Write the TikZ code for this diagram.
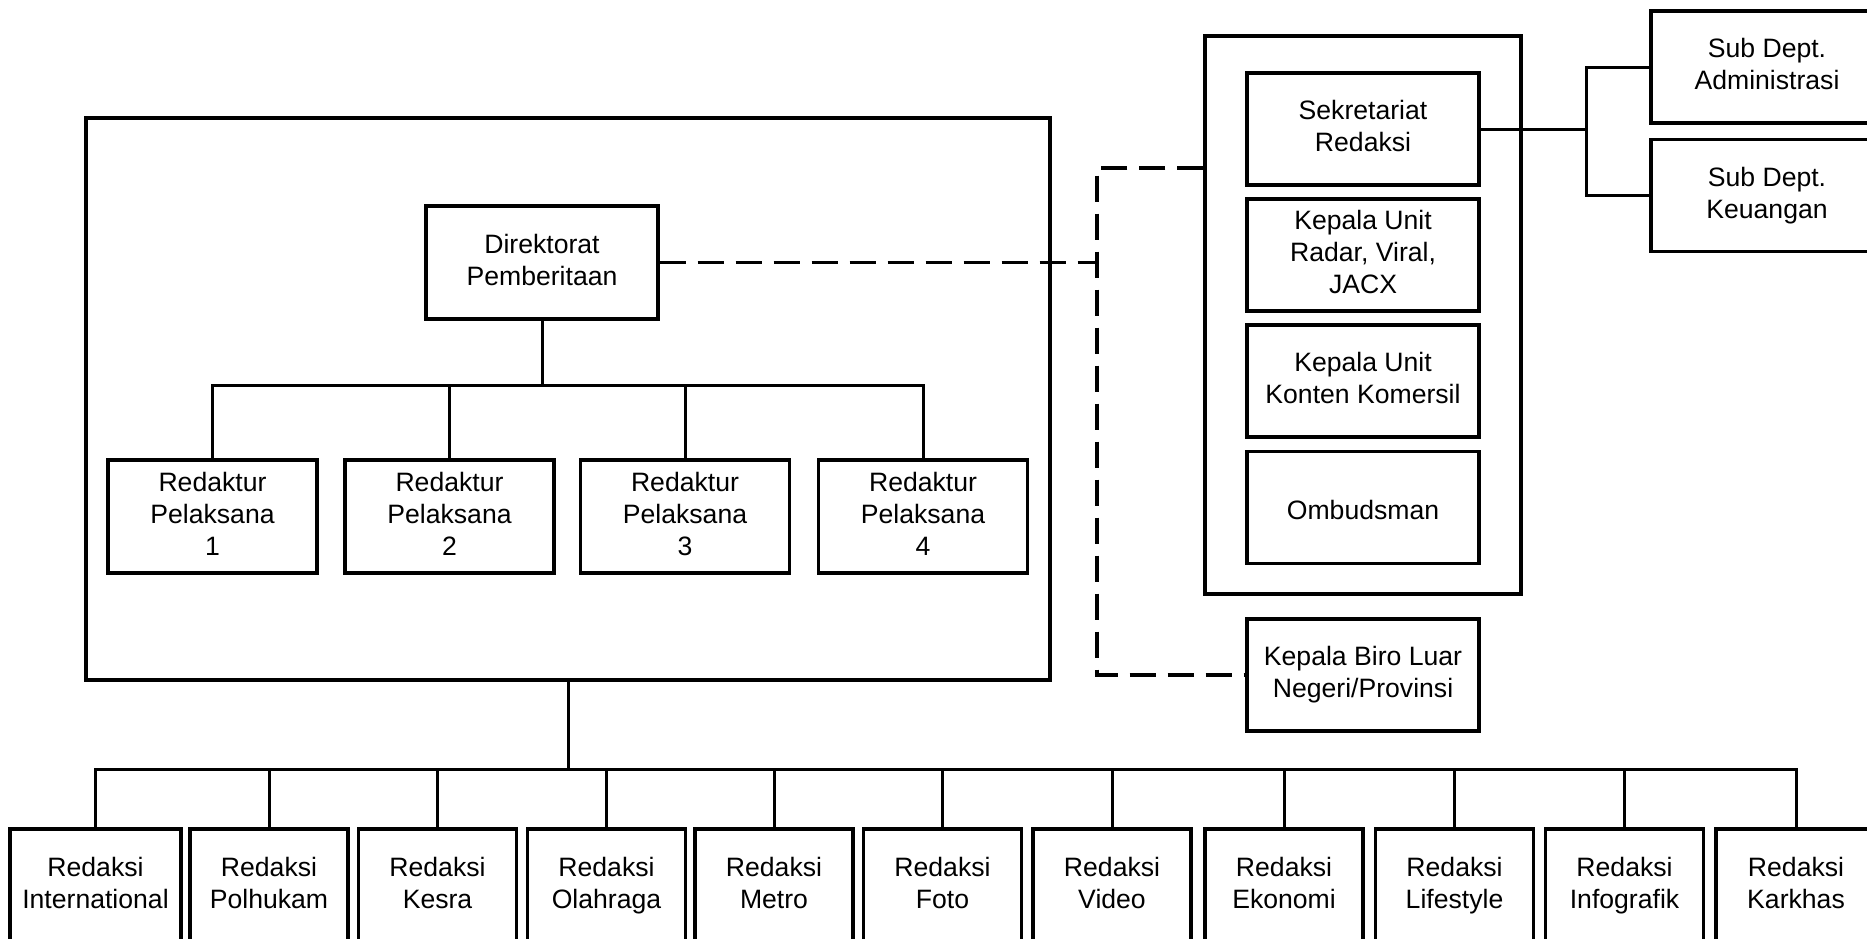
\documentclass[tikz,border=0pt]{standalone}
\usepackage{fontspec}
\setmainfont{Liberation Sans}
\newcommand{\linestrut}{\vrule height 15pt depth 3pt width 0pt\relax}
\begin{document}
\begin{tikzpicture}[x=0.5pt,y=-0.5pt,
  box/.style={draw, line width=1.6pt, align=center, inner sep=0pt,
    font=\fontsize{13.3}{16}\selectfont,
    execute at begin node=\linestrut, execute at end node=\linestrut},
  unitbox/.style={box, minimum width=116pt, minimum height=56pt},
  redbox/.style={box, minimum width=104.5pt, minimum height=56.5pt},
  deskbox/.style={box, minimum width=79pt, minimum height=56.5pt},
  link/.style={line width=1.5pt},
  dashlink/.style={line width=1.6pt, dash pattern=on 13pt off 6pt}]
\clip (0,0) rectangle (1867,938);
\fill[white] (0,0) rectangle (1867,938);

% news directorate group
\node[box, minimum width=482pt, minimum height=281pt] (grp) at (568,399) {};
\node[box, minimum width=116pt, minimum height=56.5pt] (dir) at (542,262.5) {Direktorat\\Pemberitaan};
\node[redbox] (r1) at (212.5,516.5) {Redaktur\\Pelaksana\\1};
\node[redbox] (r2) at (449.5,516.5) {Redaktur\\Pelaksana\\2};
\node[redbox] (r3) at (685,516.5) {Redaktur\\Pelaksana\\3};
\node[redbox] (r4) at (923,516.5) {Redaktur\\Pelaksana\\4};

% support units
\node[box, minimum width=158pt, minimum height=279pt] (sup) at (1363,315) {};
\node[unitbox] (sek) at (1363,129) {Sekretariat\\Redaksi};
\node[unitbox] (radar) at (1363,255) {Kepala Unit\\Radar, Viral,\\JACX};
\node[unitbox] (konten) at (1363,381) {Kepala Unit\\Konten Komersil};
\node[unitbox] (omb) at (1363,507.5) {Ombudsman};
\node[unitbox] (biro) at (1363,675) {Kepala Biro Luar\\Negeri/Provinsi};

% sub departments
\node[unitbox] (adm) at (1767,67) {Sub Dept.\\Administrasi};
\node[unitbox] (keu) at (1767,195.5) {Sub Dept.\\Keuangan};

% desks
\node[box, minimum width=85.5pt, minimum height=56.5pt] (b1) at (95.5,885.5) {Redaksi\\International};
\node[deskbox] (b2) at (269,885.5) {Redaksi\\Polhukam};
\node[deskbox] (b3) at (437.5,885.5) {Redaksi\\Kesra};
\node[deskbox] (b4) at (606.5,885.5) {Redaksi\\Olahraga};
\node[deskbox] (b5) at (774,885.5) {Redaksi\\Metro};
\node[deskbox] (b6) at (942.5,885.5) {Redaksi\\Foto};
\node[deskbox] (b7) at (1112,885.5) {Redaksi\\Video};
\node[deskbox] (b8) at (1284,885.5) {Redaksi\\Ekonomi};
\node[deskbox] (b9) at (1454.5,885.5) {Redaksi\\Lifestyle};
\node[deskbox] (b10) at (1624.5,885.5) {Redaksi\\Infografik};
\node[box, minimum width=80pt, minimum height=56.5pt] (b11) at (1796,885.5) {Redaksi\\Karkhas};

% directorate to managing editors
\coordinate (rbar) at (542,385);
\draw[link] (dir.south) -- (rbar);
\draw[link] (r1.north) |- (r4.north |- rbar) -- (r4.north);
\foreach \n in {r2,r3} \draw[link] (\n.north) -- (\n.north |- rbar);

% dashed coordination lines
\coordinate (dtop) at (1097,168);
\draw[dashlink] (dir.east) -- (dir.east -| dtop);
\draw[dashlink] (sup.west |- dtop) -- (dtop) |- (biro.west);

% secretariat to sub departments
\coordinate (brk) at (1586,129);
\draw[link] (sek.east) -- (brk);
\draw[link] (adm.west) -| (brk |- keu.west) -- (keu.west);

% group to desks
\coordinate (bbar) at (568,769);
\draw[link] (grp.south) -- (bbar);
\draw[link] (b1.north) |- (b11.north |- bbar) -- (b11.north);
\foreach \n in {b2,b3,b4,b5,b6,b7,b8,b9,b10} \draw[link] (\n.north) -- (\n.north |- bbar);
\end{tikzpicture}
\end{document}
